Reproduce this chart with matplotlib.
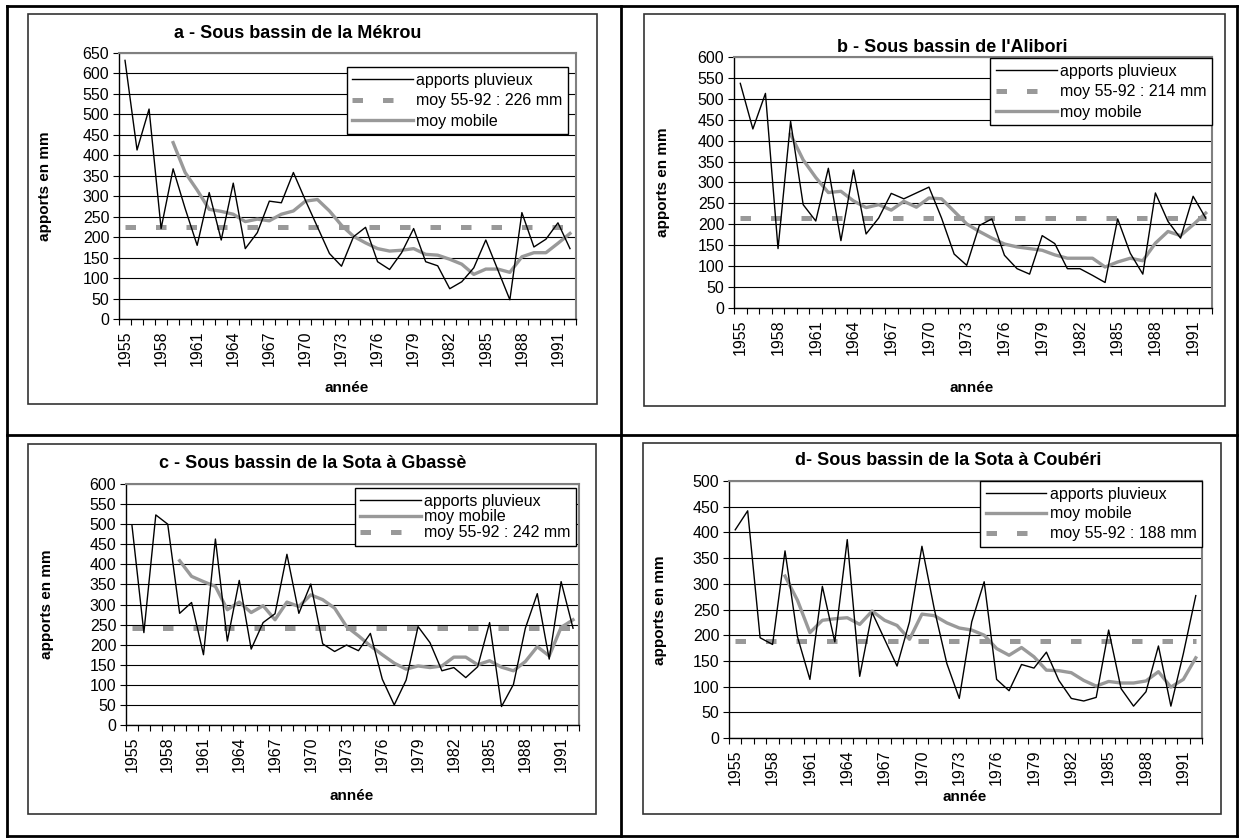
import numpy as np
import matplotlib
matplotlib.use("Agg")
import matplotlib.pyplot as plt
from matplotlib.lines import Line2D
from matplotlib.patches import Rectangle

plt.rcParams['font.family'] = ['Liberation Sans', 'DejaVu Sans']

## Data (1955-1992)
years = list(range(1955, 1993))
nan = np.nan

pluie_a = [632, 413, 513, 221, 367, 270, 180, 309, 193, 332, 172, 211, 288, 284, 358, 290, 225, 160, 129, 201,
           224, 140, 121, 162, 221, 140, 130, 74, 91, 125, 193, 120, 47, 260, 176, 195, 235, 172]
mobile_a = [nan] * 4 + [431, 358, 315, 268, 263, 256, 238, 244, 240, 256, 264, 288, 292, 264, 229, 202, 186,
                        172, 166, 168, 172, 158, 156, 146, 134, 109, 122, 122, 114, 152, 162, 162, 185, 209]
moyenne_a = 226

pluie_b = [537, 428, 513, 142, 446, 247, 208, 334, 161, 330, 177, 215, 274, 261, 275, 289, 215, 129, 102, 197,
           213, 126, 94, 81, 173, 154, 94, 94, 78, 61, 213, 131, 81, 275, 207, 167, 267, 215]
mobile_b = [nan] * 4 + [415, 354, 312, 276, 279, 256, 240, 247, 234, 255, 241, 263, 261, 231, 201, 183, 167,
                        153, 146, 142, 138, 127, 119, 119, 119, 98, 110, 119, 113, 155, 183, 173, 199, 227]
moyenne_b = 214

pluie_c = [497, 230, 523, 500, 278, 305, 175, 463, 209, 360, 189, 255, 277, 425, 278, 351, 202, 183, 199, 185,
           228, 114, 50, 112, 245, 205, 135, 143, 118, 145, 255, 46, 101, 241, 327, 164, 357, 241]
mobile_c = [nan] * 4 + [409, 370, 357, 345, 287, 306, 280, 297, 262, 306, 295, 324, 312, 291, 245, 222, 197,
                        175, 154, 139, 147, 143, 147, 169, 169, 150, 160, 144, 135, 158, 195, 172, 243, 262]
moyenne_c = 242

pluie_d = [405, 442, 195, 182, 364, 197, 114, 295, 187, 386, 120, 244, 192, 140, 226, 373, 250, 145, 77, 226,
           304, 114, 92, 143, 136, 167, 112, 77, 72, 79, 210, 96, 62, 90, 179, 62, 164, 277]
mobile_d = [nan] * 4 + [315, 268, 205, 229, 232, 234, 221, 247, 229, 219, 192, 241, 238, 224, 214, 210, 200,
                        174, 161, 176, 158, 132, 131, 127, 112, 101, 110, 107, 107, 111, 129, 99, 114, 156]
moyenne_d = 188

W, H = 1243, 838
GRAY = '#999999'


def fx(x):
    return x / W


def fy(y):
    return 1 - y / H


def draw_panel(fig, box, plot, title, title_xy, ylab_xy, xlab_xy,
               pluie, mobile, moyenne, ymax, order, leg_xy, spacing):
    ''' one Excel-like chart: rainfall, 38-year mean and moving average '''
    fig.patches.append(Rectangle((fx(box[0]), fy(box[3])), fx(box[2] - box[0]), (box[3] - box[1]) / H,
                                 transform=fig.transFigure, fill=False, edgecolor='#333333', lw=1.2))
    l, t, r, b = plot
    ax = fig.add_axes([fx(l), fy(b), fx(r - l), (b - t) / H])
    x = np.arange(len(years))

    h_pluie, = ax.plot(x, pluie, color='black', lw=1.0, zorder=3)
    h_moy, = ax.plot(x, [moyenne] * len(x), color=GRAY, lw=3.6, dashes=(2.1, 4.0), zorder=2)
    h_mob, = ax.plot(x, mobile, color=GRAY, lw=2.4, zorder=2)

    ax.set_xlim(-0.5, len(x) - 0.5)
    ax.set_ylim(0, ymax)
    ax.set_yticks(np.arange(0, ymax + 1, 50))
    ax.yaxis.grid(True, color='black', lw=0.8)
    ax.set_axisbelow(True)

    ax.set_xticks(x[::3])
    ax.set_xticklabels([str(y) for y in years[::3]], rotation=90)
    ax.set_xticks(np.arange(-0.5, len(x)), minor=True)
    ax.tick_params(axis='x', which='major', length=0, pad=8, labelsize=11.5)
    ax.tick_params(axis='x', which='minor', length=4, width=0.8, direction='out')
    ax.tick_params(axis='y', length=4, width=0.8, direction='out', pad=3, labelsize=11.5)

    for s in ['left', 'bottom']:
        ax.spines[s].set_color('black')
        ax.spines[s].set_linewidth(1.0)
    for s in ['top', 'right']:
        ax.spines[s].set_color('#808080')
        ax.spines[s].set_linewidth(1.5)

    labels = {'pluie': (h_pluie, 'apports pluvieux'),
              'moy': (h_moy, 'moy 55-92 : %d mm' % moyenne),
              'mob': (h_mob, 'moy mobile')}
    handles = [labels[k][0] for k in order]
    texts = [labels[k][1] for k in order]
    leg = ax.legend(handles, texts, loc='upper right', bbox_to_anchor=(fx(leg_xy[0]), fy(leg_xy[1])),
                    bbox_transform=fig.transFigure, borderaxespad=0, fancybox=False, framealpha=1,
                    edgecolor='black', fontsize=11.5, handlelength=3.8, handletextpad=0.2,
                    labelspacing=spacing, borderpad=0.35)
    leg.get_frame().set_linewidth(1.0)

    fig.text(fx(title_xy[0]), fy(title_xy[1]), title, ha='center', va='center',
             fontsize=13, fontweight='bold')
    fig.text(fx(ylab_xy[0]), fy(ylab_xy[1]), 'apports en mm', ha='center', va='center',
             rotation=90, fontsize=11, fontweight='bold')
    fig.text(fx(xlab_xy[0]), fy(xlab_xy[1]), 'année', ha='center', va='center',
             fontsize=11, fontweight='bold')
    return ax


def main():
    fig = plt.figure(figsize=(W / 100, H / 100), dpi=100)

    ## table frame around the four charts
    frame = [((7, 1237), (6, 6)), ((7, 1237), (836, 836)), ((7, 7), (6, 836)),
             ((1237, 1237), (6, 836)), ((621, 621), (6, 836)), ((7, 1237), (435, 435))]
    for xs, ys in frame:
        fig.lines.append(Line2D([fx(xs[0]), fx(xs[1])], [fy(ys[0]), fy(ys[1])],
                                transform=fig.transFigure, color='black', lw=2))

    draw_panel(fig, (28, 14, 597, 404), (119, 53, 576, 319), 'a - Sous bassin de la Mékrou',
               (298, 34), (45, 186), (347, 388), pluie_a, mobile_a, moyenne_a, 650,
               ['pluie', 'moy', 'mob'], (568, 67), 0.35)
    draw_panel(fig, (644, 14, 1225, 406), (734, 57, 1212, 308), "b - Sous bassin de l'Alibori",
               (952, 47), (663, 182), (972, 388), pluie_b, mobile_b, moyenne_b, 600,
               ['pluie', 'moy', 'mob'], (1212, 58), 0.35)
    draw_panel(fig, (28, 444, 596, 814), (126, 484, 579, 725), 'c - Sous bassin de la Sota à Gbassè',
               (313, 463), (47, 604), (352, 796), pluie_c, mobile_c, moyenne_c, 600,
               ['pluie', 'mob', 'moy'], (576, 488), 0.05)
    draw_panel(fig, (643, 443, 1221, 814), (729, 481, 1202, 738), 'd- Sous bassin de la Sota à Coubéri',
               (948, 460), (660, 610), (965, 797), pluie_d, mobile_d, moyenne_d, 500,
               ['pluie', 'mob', 'moy'], (1202, 481), 0.3)

    fig.savefig('out.png', dpi=100)


if __name__ == "__main__":
    main()
